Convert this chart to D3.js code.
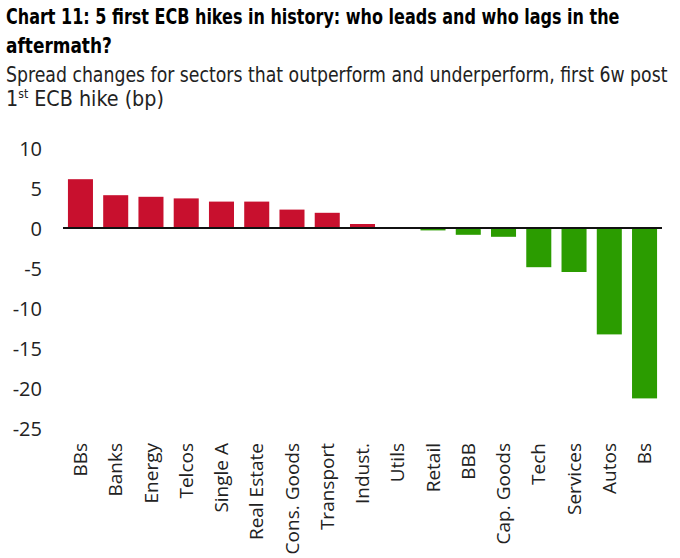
<!DOCTYPE html>
<html>
<head>
<meta charset="utf-8">
<script src="https://cdn.jsdelivr.net/npm/d3@7"></script>
<style>
  body { margin: 0; background: #fff; }
  svg { display: block; }
</style>
</head>
<body>
<div id="chart"></div>
<script>
// sectors, in the order drawn
const sectors = ["BBs", "Banks", "Energy", "Telcos", "Single A", "Real Estate", "Cons. Goods",
    "Transport", "Indust.", "Utils", "Retail", "BBB", "Cap. Goods", "Tech", "Services", "Autos", "Bs"]
// spread change, bp
const spreadChange = [6.1, 4.1, 3.9, 3.7, 3.3, 3.3, 2.3, 1.9, 0.5, 0, -0.3, -0.85, -1.1, -4.9, -5.5, -13.3, -21.3]
const yTicks = [10, 5, 0, -5, -10, -15, -20, -25]

const titleLines = ["Chart 11: 5 first ECB hikes in history: who leads and who lags in the", "aftermath?"]
const subtitleLine = "Spread changes for sectors that outperform and underperform, first 6w post"

const width = 680, height = 558
const margin = {top: 148, right: 18, bottom: 130, left: 63}

const svg = d3.select("#chart").append("svg")
    .attr("width", width)
    .attr("height", height)

const condensed = "'DejaVu Sans Condensed', 'Roboto', sans-serif"

// squeeze a text horizontally so it spans the target width
function fitText(sel, x0, y0, target) {
    const w = sel.node().getComputedTextLength()
    const k = target / w
    sel.attr("x", 0).attr("y", 0)
        .attr("transform", `translate(${x0},${y0}) scale(${k},1)`)
    return sel
}

// title + subtitle
const t1 = svg.append("text")
    .style("font-family", condensed).style("font-weight", "bold").style("font-size", "21px")
    .text(titleLines[0])
fitText(t1, 6, 24, 614)
const t2 = svg.append("text")
    .style("font-family", condensed).style("font-weight", "bold").style("font-size", "21px")
    .text(titleLines[1])
fitText(t2, 6, 53, 106)

const s1 = svg.append("text")
    .style("font-family", condensed).style("font-size", "21px").style("fill", "#222")
    .text(subtitleLine)
fitText(s1, 6, 82, 662)
const s2 = svg.append("text")
    .style("font-family", condensed).style("font-size", "21px").style("fill", "#222")
s2.append("tspan").text("1")
s2.append("tspan").attr("dy", -8).style("font-size", "12px").text("st")
s2.append("tspan").attr("dy", 8).text(" ECB hike (bp)")
fitText(s2, 6, 106, 158)

const x = d3.scaleBand()
    .domain(sectors)
    .range([margin.left, width - margin.right])
    .paddingInner(0.29)
    .paddingOuter(0.14)

const y = d3.scaleLinear()
    .domain([-25, 10])
    .range([428, 148])

// y axis, labels only
const yAxis = svg.append("g")
    .attr("transform", "translate(42,0)")
    .call(d3.axisLeft(y).tickValues(yTicks).tickSize(0).tickPadding(0).tickFormat(d => String(d)))
yAxis.select(".domain").remove()
yAxis.selectAll("text")
    .style("font-family", "'Open Sans', sans-serif")
    .style("font-size", "20px")
    .style("fill", "#222")
    .attr("dy", "0.35em")

// bars
svg.selectAll(".bar")
    .data(sectors.map((s, i) => ({sector: s, value: spreadChange[i]})))
    .join("rect")
    .attr("class", "bar")
    .attr("x", d => x(d.sector))
    .attr("width", x.bandwidth())
    .attr("y", d => y(Math.max(0, d.value)))
    .attr("height", d => Math.abs(y(d.value) - y(0)))
    .style("fill", d => d.value > 0 ? "#c8102e" : "#2b9c00")

// zero line
svg.append("line")
    .attr("x1", margin.left).attr("x2", width - margin.right)
    .attr("y1", y(0)).attr("y2", y(0))
    .style("stroke", "#111").style("stroke-width", 2)

// x axis labels, rotated
const xAxis = svg.append("g")
    .attr("transform", "translate(0,443)")
    .call(d3.axisBottom(x).tickSize(0).tickPadding(0))
xAxis.select(".domain").remove()
xAxis.selectAll("text")
    .attr("transform", "rotate(-90)")
    .attr("x", 0)
    .attr("y", 0)
    .attr("dy", "0.35em")
    .style("text-anchor", "end")
    .style("font-family", "'Open Sans', sans-serif")
    .style("font-size", "19px")
    .style("fill", "#222")
</script>
</body>
</html>
